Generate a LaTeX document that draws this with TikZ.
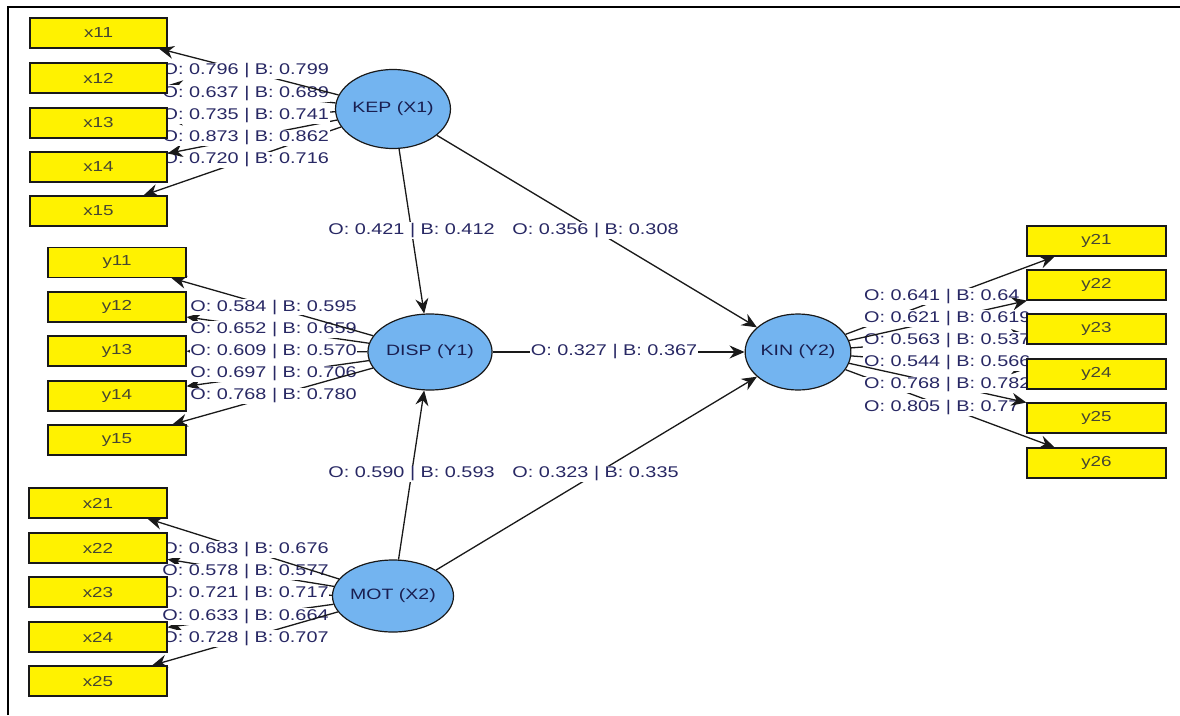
\documentclass[tikz,border=0pt]{standalone}
\usepackage{fontspec}
\setmainfont{Liberation Sans}
\newfontfamily\labfont[FakeStretch=1.28]{Liberation Sans}
\newfontfamily\boxfont[FakeStretch=1.3]{Liberation Sans}
\usetikzlibrary{shapes.geometric,arrows.meta,calc}
\pgfdeclarelayer{back}
\pgfdeclarelayer{bg}
\pgfsetlayers{back,bg,main}
\definecolor{latfill}{RGB}{115,180,240}
\definecolor{labtext}{RGB}{40,40,100}
\definecolor{boxtext}{RGB}{70,70,50}
\definecolor{lattext}{RGB}{25,30,80}
\definecolor{edgecol}{RGB}{25,25,25}
\begin{document}
\begin{tikzpicture}[x=1pt,y=-1pt,
  lat/.style={ellipse,draw=edgecol,line width=1.2pt,fill=latfill,inner sep=0pt,
    font=\boxfont\fontsize{15}{16}\selectfont,text=lattext},
  ind/.style={rectangle,draw=edgecol,line width=1.2pt,fill=yellow,minimum width=137pt,
    minimum height=30pt,inner sep=0pt,font=\boxfont\fontsize{14.5}{15}\selectfont,text=boxtext},
  edge/.style={draw=edgecol,line width=1.3pt,-{Stealth[length=15pt,width=13pt,inset=5pt]}},
  lab/.style={fill=white,inner sep=0.8pt,text=labtext,font=\labfont\fontsize{15.5}{16}\selectfont}]
\useasboundingbox (0,0) rectangle (1180,715);
\begin{pgfonlayer}{back}
\fill[white] (0,0) rectangle (1180,715);
\draw[line width=2.5pt] (8,715) -- (8,7) -- (1180,7);
\end{pgfonlayer}

% latent variables
\node[lat,minimum width=109pt,minimum height=79pt] (kep) at (393,109) {KEP (X1)};
\node[lat,minimum width=107pt,minimum height=76pt] (disp) at (430,352) {DISP (Y1)};
\node[lat,minimum width=102pt,minimum height=76pt] (kin) at (798,352) {KIN (Y2)};
\node[lat,minimum width=109pt,minimum height=72pt] (mot) at (393,596) {MOT (X2)};

% indicators
\node[ind] (x11) at (98.5,33) {x11};
\node[ind] (x12) at (98.5,78) {x12};
\node[ind] (x13) at (98.5,123) {x13};
\node[ind] (x14) at (98.5,167) {x14};
\node[ind] (x15) at (98.5,211) {x15};
\node[ind,minimum width=138pt] (y11) at (117,262.5) {y11};
\node[ind,minimum width=138pt] (y12) at (117,307) {y12};
\node[ind,minimum width=138pt] (y13) at (117,351) {y13};
\node[ind,minimum width=138pt] (y14) at (117,396) {y14};
\node[ind,minimum width=138pt] (y15) at (117,440) {y15};
\node[ind,minimum width=138pt] (x21) at (98,503) {x21};
\node[ind,minimum width=138pt] (x22) at (98,548) {x22};
\node[ind,minimum width=138pt] (x23) at (98,592) {x23};
\node[ind,minimum width=138pt] (x24) at (98,637) {x24};
\node[ind,minimum width=138pt] (x25) at (98,681) {x25};
\node[ind,minimum width=139pt] (y21) at (1096.5,241) {y21};
\node[ind,minimum width=139pt] (y22) at (1096.5,285) {y22};
\node[ind,minimum width=139pt] (y23) at (1096.5,329) {y23};
\node[ind,minimum width=139pt] (y24) at (1096.5,374) {y24};
\node[ind,minimum width=139pt] (y25) at (1096.5,418) {y25};
\node[ind,minimum width=139pt] (y26) at (1096.5,463) {y26};

\begin{pgfonlayer}{bg}
% KEP outer
\draw[edge] (kep) -- (x15); \node[lab] (lx15) at ($(kep)!0.5!(x15)$) {O: 0.720 | B: 0.716};
\draw[edge] (kep) -- (x14); \node[lab] (lx14) at ($(kep)!0.5!(x14)$) {O: 0.873 | B: 0.862};
\draw[edge] (kep) -- (x13); \node[lab] (lx13) at ($(kep)!0.5!(x13)$) {O: 0.735 | B: 0.741};
\draw[edge] (kep) -- (x12); \node[lab] (lx12) at ($(kep)!0.5!(x12)$) {O: 0.637 | B: 0.689};
\draw[edge] (kep) -- (x11); \node[lab] (lx11) at ($(kep)!0.5!(x11)$) {O: 0.796 | B: 0.799};
% DISP outer
\draw[edge] (disp) -- (y12); \node[lab] (ly12) at ($(disp)!0.5!(y12)$) {O: 0.652 | B: 0.659};
\draw[edge] (disp) -- (y13); \node[lab] (ly13) at ($(disp)!0.5!(y13)$) {O: 0.609 | B: 0.570};
\draw[edge] (disp) -- (y14); \node[lab] (ly14) at ($(disp)!0.5!(y14)$) {O: 0.697 | B: 0.706};
\draw[edge] (disp) -- (y11); \node[lab] (ly11) at ($(disp)!0.5!(y11)$) {O: 0.584 | B: 0.595};
\draw[edge] (disp) -- (y15); \node[lab] (ly15) at ($(disp)!0.5!(y15)$) {O: 0.768 | B: 0.780};
% MOT outer
\draw[edge] (mot) -- (x22); \node[lab] (lx22) at ($(mot)!0.5!(x22)$) {O: 0.578 | B: 0.577};
\draw[edge] (mot) -- (x23); \node[lab] (lx23) at ($(mot)!0.5!(x23)$) {O: 0.721 | B: 0.717};
\draw[edge] (mot) -- (x24); \node[lab] (lx24) at ($(mot)!0.5!(x24)$) {O: 0.633 | B: 0.664};
\draw[edge] (mot) -- (x21); \node[lab] (lx21) at ($(mot)!0.5!(x21)$) {O: 0.683 | B: 0.676};
\draw[edge] (mot) -- (x25); \node[lab] (lx25) at ($(mot)!0.5!(x25)$) {O: 0.728 | B: 0.707};
% KIN outer
\draw[edge] (kin) -- (y21); \node[lab] (ly21) at ($(kin)!0.5!(y21)$) {O: 0.641 | B: 0.64\phantom{0}};
\draw[edge] (kin) -- (y23); \node[lab] (ly23) at ($(kin)!0.5!(y23)$) {O: 0.563 | B: 0.537};
\draw[edge] (kin) -- (y22); \node[lab] (ly22) at ($(kin)!0.5!(y22)$) {O: 0.621 | B: 0.619};
\draw[edge] (kin) -- (y24); \node[lab] (ly24) at ($(kin)!0.5!(y24)$) {O: 0.544 | B: 0.566};
\draw[edge] (kin) -- (y26); \node[lab] (ly26) at ($(kin)!0.5!(y26)$) {O: 0.805 | B: 0.77\phantom{0}};
\draw[edge] (kin) -- (y25); \node[lab] (ly25) at ($(kin)!0.5!(y25)$) {O: 0.768 | B: 0.782};
% inner model
\draw[edge] (kep) -- (disp); \node[lab] (l1) at ($(kep)!0.5!(disp)$) {O: 0.421 | B: 0.412};
\draw[edge] (kep) -- (kin); \node[lab] (l2) at ($(kep)!0.5!(kin)$) {O: 0.356 | B: 0.308};
\draw[edge] (disp) -- (kin); \node[lab] (l3) at ($(disp)!0.5!(kin)$) {O: 0.327 | B: 0.367};
\draw[edge] (mot) -- (disp); \node[lab] (l4) at ($(mot)!0.5!(disp)$) {O: 0.590 | B: 0.593};
\draw[edge] (mot) -- (kin); \node[lab] (l5) at ($(mot)!0.5!(kin)$) {O: 0.323 | B: 0.335};
\end{pgfonlayer}
\end{tikzpicture}
\end{document}
